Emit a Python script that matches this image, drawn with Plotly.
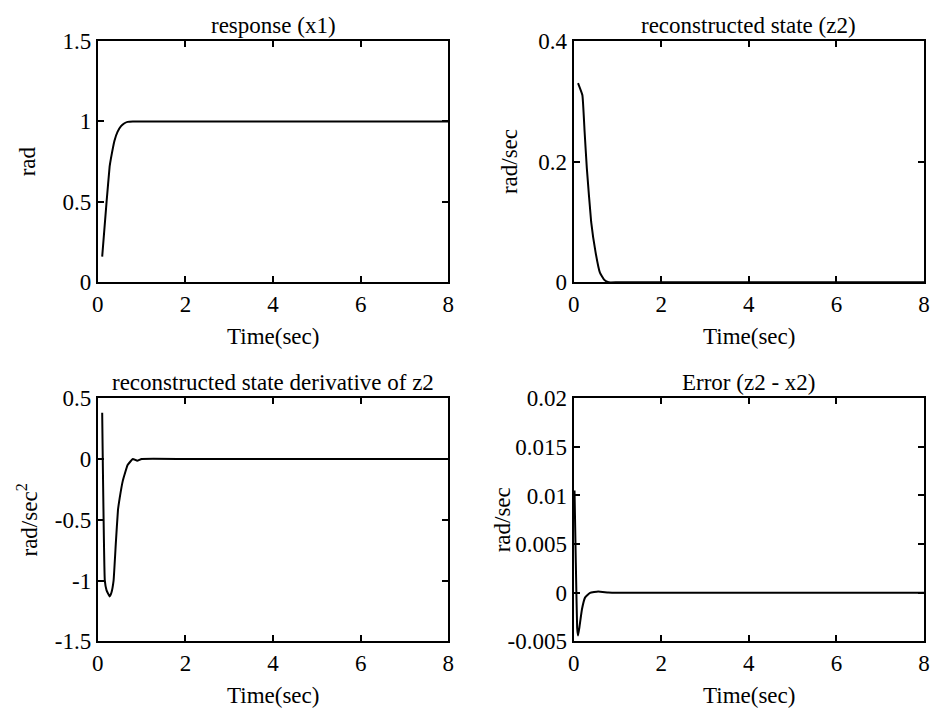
import plotly.graph_objects as go

# ---- data ----
t_x1 = [0.1, 0.2, 0.27, 0.3, 0.38, 0.45, 0.53, 0.6, 0.68, 0.8, 1.0, 2.0, 4.0, 6.0, 8.0]
x1 = [0.16, 0.50, 0.72, 0.77, 0.88, 0.935, 0.97, 0.987, 0.997, 1.0, 1.0, 1.0, 1.0, 1.0, 1.0]

t_z2 = [0.1, 0.2, 0.25, 0.3, 0.4, 0.5, 0.6, 0.7, 0.8, 1.0, 2.0, 4.0, 6.0, 8.0]
z2 = [0.33, 0.31, 0.25, 0.19, 0.10, 0.05, 0.016, 0.004, 0.0, 0.0, 0.0, 0.0, 0.0, 0.0]

t_dz2 = [0.1, 0.16, 0.2, 0.27, 0.31, 0.36, 0.41, 0.46, 0.5, 0.57, 0.68, 0.8, 0.9, 1.0, 2.0, 4.0, 6.0, 8.0]
dz2 = [0.38, -1.0, -1.08, -1.13, -1.10, -1.0, -0.7, -0.42, -0.32, -0.18, -0.05, 0.0, -0.015, 0.0, 0.0, 0.0, 0.0, 0.0]

t_err = [0.02, 0.05, 0.08, 0.1, 0.13, 0.19, 0.26, 0.375, 0.56, 0.79, 1.0, 2.0, 4.0, 6.0, 8.0]
err = [0.0105, 0.003, -0.0036, -0.0044, -0.0036, -0.0017, -0.0005, 0.0, 0.00013, 0.00003, 0.0, 0.0, 0.0, 0.0, 0.0]

x_ticks = [0, 2, 4, 6, 8]
x_ticktext = ["0", "2", "4", "6", "8"]
y1_ticks = [0, 0.5, 1, 1.5]
y1_text = ["0", "0.5", "1", "1.5"]
y2_ticks = [0, 0.2, 0.4]
y2_text = ["0", "0.2", "0.4"]
y3_ticks = [-1.5, -1, -0.5, 0, 0.5]
y3_text = ["-1.5", "-1", "-0.5", "0", "0.5"]
y4_ticks = [-0.005, 0, 0.005, 0.01, 0.015, 0.02]
y4_text = ["-0.005", "0", "0.005", "0.01", "0.015", "0.02"]

titles = ["response (x1)", "reconstructed state (z2)",
          "reconstructed state derivative of z2", "Error (z2 - x2)"]
ylabels = ["rad", "rad/sec", "rad/sec<sup>2</sup>", "rad/sec"]
xlabel = "Time(sec)"

W, H = 938, 722
FONT = "Liberation Serif"
FS = 23

# pixel layout
left_dom = (93 / W, 448 / W)
right_dom = (575 / W, 930 / W)
top_dom = ((H - 280) / H, (H - 30) / H)
bot_dom = ((H - 652) / H, (H - 400) / H)

fig = go.Figure()

series = [(t_x1, x1, "x", "y"), (t_z2, z2, "x2", "y2"),
          (t_dz2, dz2, "x3", "y3"), (t_err, err, "x4", "y4")]
for tx, yv, xa, ya in series:
    fig.add_trace(go.Scatter(x=tx, y=yv, xaxis=xa, yaxis=ya, mode="lines",
                             line=dict(color="black", width=2, shape="spline", smoothing=0.3),
                             showlegend=False, hoverinfo="skip"))

axis_common = dict(showline=True, linecolor="black", linewidth=2, mirror="ticks",
                   ticks="inside", ticklen=6, tickwidth=1.5, tickcolor="black",
                   showgrid=False, zeroline=False, ticklabeloverflow="allow",
                   tickfont=dict(family=FONT, size=FS, color="black"))

doms = [(left_dom, top_dom), (right_dom, top_dom), (left_dom, bot_dom), (right_dom, bot_dom)]
yranges = [[0, 1.5], [0, 0.4], [-1.5, 0.5], [-0.005, 0.02]]
yticks = [(y1_ticks, y1_text), (y2_ticks, y2_text), (y3_ticks, y3_text), (y4_ticks, y4_text)]

layout = {}
for i in range(4):
    sfx = "" if i == 0 else str(i + 1)
    xd, yd = doms[i]
    layout["xaxis" + sfx] = dict(axis_common, domain=list(xd), range=[0, 8],
                                 tickvals=x_ticks, ticktext=x_ticktext,
                                 anchor="y" + sfx)
    layout["yaxis" + sfx] = dict(axis_common, domain=list(yd), range=yranges[i],
                                 tickvals=yticks[i][0], ticktext=yticks[i][1],
                                 anchor="x" + sfx)

annotations = []
ylab_x = [22, 510, 22, 503]
for i in range(4):
    xd, yd = doms[i]
    cx = (xd[0] + xd[1]) / 2
    annotations.append(dict(text=titles[i], x=cx, y=yd[1] + 1 / H, xref="paper", yref="paper",
                            xanchor="center", yanchor="bottom", showarrow=False,
                            font=dict(family=FONT, size=FS, color="black")))
    annotations.append(dict(text=xlabel, x=cx, y=yd[0] - 56 / H, xref="paper", yref="paper",
                            xanchor="center", yanchor="middle", showarrow=False,
                            font=dict(family=FONT, size=FS, color="black")))
    annotations.append(dict(text=ylabels[i], x=ylab_x[i] / W, y=(yd[0] + yd[1]) / 2,
                            xref="paper", yref="paper", xanchor="center", yanchor="middle",
                            textangle=-90, showarrow=False,
                            font=dict(family=FONT, size=FS, color="black")))

fig.update_layout(width=W, height=H, margin=dict(l=0, r=0, t=0, b=0),
                  paper_bgcolor="white", plot_bgcolor="white",
                  annotations=annotations, **layout)

fig.write_html("out.html", config={"displayModeBar": False},
               post_script="document.body.style.margin='0';document.body.style.overflow='hidden';")
